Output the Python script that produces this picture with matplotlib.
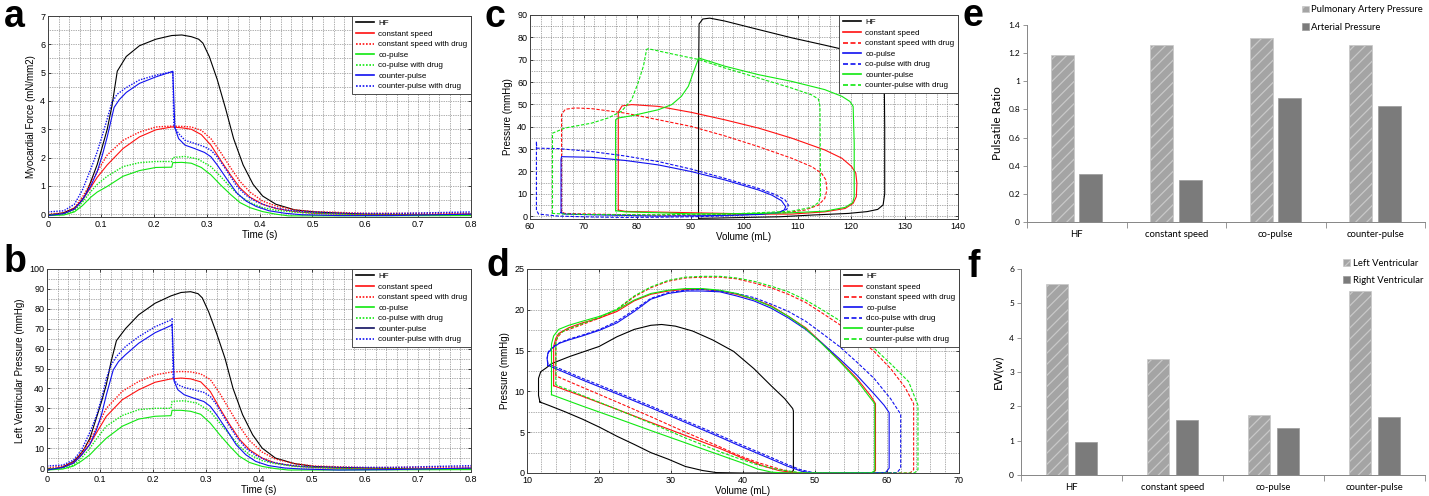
import numpy as np
import matplotlib
matplotlib.use('Agg')
import matplotlib.pyplot as plt
from matplotlib.ticker import MultipleLocator, FormatStrFormatter, FixedLocator
from matplotlib.lines import Line2D

plt.rcParams['font.family'] = ['Liberation Sans', 'DejaVu Sans']
plt.rcParams['hatch.linewidth'] = 0.9

# ---------------- panel a / b : time courses ----------------
t_hf = [0, 0.03, 0.05, 0.06, 0.07, 0.081, 0.093, 0.103, 0.112, 0.121, 0.131, 0.148, 0.173, 0.204,
        0.234, 0.253, 0.271, 0.285, 0.293, 0.305, 0.32, 0.336, 0.351, 0.369, 0.388, 0.406, 0.431,
        0.467, 0.504, 0.55, 0.6, 0.7, 0.8]
force_hf = [-0.03, 0.05, 0.22, 0.4, 0.65, 1.15, 1.75, 2.4, 3.0, 3.83, 5.05, 5.57, 5.95, 6.18,
            6.31, 6.33, 6.27, 6.18, 6.04, 5.57, 4.76, 3.72, 2.67, 1.74, 1.05, 0.64, 0.35,
            0.15, 0.08, 0.04, 0.0, -0.02, 0.0]
lvp_hf = [-1, 0.5, 3.3, 6, 9.5, 15, 25, 33.5, 42, 53.5, 64, 70, 77, 82.8,
          86.5, 88.2, 88.6, 87.6, 85.5, 78.5, 67.7, 55, 40, 26.8, 16.7, 10, 5,
          2.2, 0.8, 0.3, 0, -0.5, -0.3]

t_cs = [0, 0.03, 0.05, 0.065, 0.081, 0.093, 0.112, 0.142, 0.173, 0.204, 0.234, 0.253, 0.271,
        0.29, 0.308, 0.326, 0.345, 0.363, 0.382, 0.406, 0.431, 0.467, 0.504, 0.6, 0.8]
force_cs = [-0.05, 0.02, 0.18, 0.5, 0.95, 1.3, 1.74, 2.32, 2.73, 2.98, 3.08, 3.05, 3.0,
            2.81, 2.44, 1.92, 1.39, 0.93, 0.6, 0.35, 0.2, 0.09, 0.03, -0.02, -0.02]
force_cs_drug = [0.0, 0.05, 0.22, 0.6, 1.1, 1.5, 2.09, 2.61, 2.9, 3.08, 3.11, 3.1, 3.08,
                 2.96, 2.67, 2.2, 1.65, 1.16, 0.78, 0.46, 0.29, 0.15, 0.09, 0.03, 0.03]
lvp_cs = [-1, 0.3, 2.5, 6.5, 12, 17.5, 26, 34.3, 39.3, 43.1, 44.8, 45.2, 44.8,
          43.3, 38.5, 30, 21.7, 14.5, 9.2, 5, 2.5, 1, 0.3, -0.5, -0.5]
lvp_cs_drug = [0, 1, 3, 7.5, 14, 20, 30, 38.5, 43.5, 46.8, 48.2, 48.5, 48.3,
               47.3, 44.5, 37.5, 29, 21, 13.8, 8, 4.5, 2.2, 1.0, 0.2, 0.5]

t_co = [0, 0.03, 0.05, 0.065, 0.081, 0.093, 0.112, 0.142, 0.173, 0.204, 0.234, 0.236, 0.253,
        0.271, 0.29, 0.308, 0.326, 0.345, 0.363, 0.382, 0.406, 0.431, 0.455, 0.5, 0.8]
force_co = [-0.05, -0.03, 0.08, 0.3, 0.6, 0.78, 0.98, 1.34, 1.54, 1.65, 1.66, 1.82, 1.83,
            1.8, 1.65, 1.39, 1.04, 0.7, 0.41, 0.23, 0.09, 0.0, -0.06, -0.06, -0.05]
lvp_co = [-1, -0.5, 1, 3.5, 6.7, 10, 15, 21, 24.6, 26, 26.3, 29, 29.0,
          28.5, 27.0, 22.6, 16.7, 10.9, 5.9, 2.8, 0.8, -0.3, -1, -1, -0.8]

t_co_drug = [0, 0.03, 0.05, 0.065, 0.081, 0.093, 0.112, 0.142, 0.173, 0.204, 0.234, 0.236, 0.259,
             0.283, 0.308, 0.326, 0.345, 0.363, 0.382, 0.406, 0.431, 0.467, 0.504, 0.6, 0.8]
force_co_drug = [-0.02, 0.0, 0.12, 0.42, 0.8, 1.05, 1.34, 1.68, 1.82, 1.86, 1.86, 2.0, 2.04,
                 1.95, 1.68, 1.34, 0.96, 0.64, 0.41, 0.23, 0.14, 0.07, 0.03, -0.03, -0.03]
lvp_co_drug = [-0.5, 0, 1.5, 5, 10, 14.5, 21, 26.4, 29.3, 30, 30, 33.5, 33.8,
               32.6, 28.4, 22.6, 16.7, 10.9, 6.7, 3.7, 2.2, 0.8, 0.3, -0.5, -0.5]

t_cp = [0, 0.03, 0.05, 0.065, 0.081, 0.093, 0.103, 0.112, 0.125, 0.135, 0.148, 0.173, 0.204,
        0.234, 0.236, 0.24, 0.247, 0.259, 0.277, 0.296, 0.308, 0.32, 0.339, 0.357, 0.375,
        0.394, 0.418, 0.449, 0.48, 0.55, 0.65, 0.8]
force_cp = [-0.05, 0.02, 0.18, 0.5, 1.0, 1.5, 2.1, 2.73, 3.77, 4.05, 4.3, 4.62, 4.85,
            5.03, 5.05, 3.05, 2.67, 2.44, 2.32, 2.18, 2.03, 1.74, 1.22, 0.75, 0.46,
            0.27, 0.12, 0.03, -0.02, -0.05, -0.05, 0.0]
lvp_cp = [-1, 0.3, 2.5, 6.5, 12, 19, 27, 36.8, 49.3, 53.5, 56.9, 62.7, 68,
          71.6, 72.4, 43.5, 39.3, 36.8, 35.1, 33.4, 31, 26.8, 19.2, 11.7, 6.7,
          3.3, 1.2, 0, -0.5, -1, -0.8, 0]

t_cp_drug = [0, 0.03, 0.05, 0.065, 0.081, 0.093, 0.103, 0.112, 0.121, 0.131, 0.148, 0.173, 0.204,
             0.234, 0.236, 0.238, 0.247, 0.259, 0.277, 0.296, 0.308, 0.32, 0.339, 0.357, 0.375,
             0.394, 0.418, 0.449, 0.48, 0.55, 0.65, 0.8]
force_cp_drug = [0.08, 0.12, 0.35, 0.85, 1.6, 2.2, 2.8, 3.37, 3.95, 4.24, 4.47, 4.74, 4.91,
                 5.03, 5.05, 3.1, 2.85, 2.61, 2.5, 2.38, 2.26, 2.03, 1.51, 0.99, 0.66,
                 0.44, 0.27, 0.15, 0.09, 0.03, 0.02, 0.08]
lvp_cp_drug = [1, 1.5, 4, 9, 18, 26, 35, 45, 51.8, 56, 61, 66, 71,
               74.4, 75, 45, 41.8, 40.5, 39.3, 38, 36, 31.8, 23.4, 15.9, 10,
               6.4, 3.3, 1.7, 0.8, 0.3, 0.3, 1.2]

labels_ab = ['HF', 'constant speed', 'constant speed with drug', 'co-pulse',
             'co-pulse with drug', 'counter-pulse', 'counter-pulse with drug']

# ---------------- panel c : LV pressure-volume loops ----------------
v_c_hf = [91.5, 91.5, 91.5, 91.6, 92.3, 93.6, 96.4, 102.7, 108.9, 115.1, 118, 122, 125, 126.2,
          126.3, 126.3, 126.0, 125.0, 123, 119.5, 113, 106.7, 100.5, 94.4, 91.5]
p_c_hf = [-1.0, 30, 60, 86, 88.2, 88.6, 87.3, 83.5, 79.8, 76.5, 74.9, 72.5, 70, 66,
          40, 10, 5, 3, 2.0, 1.2, 0.5, -0.3, -0.6, -0.9, -1.0]

v_c_cs = [76.5, 76.5, 77.2, 79.0, 84.0, 90.2, 96.4, 102.7, 108.9, 115.1, 118.3, 120.1, 120.9,
          121.1, 121.0, 120.4, 118.9, 115.1, 108.9, 102.7, 96.4, 90.2, 84.0, 77.8, 76.5]
p_c_cs = [2.7, 46.5, 49.3, 49.9, 49.1, 46.4, 43.1, 39.4, 34.9, 29.6, 25.9, 22.2, 19.2,
          14.7, 8.7, 5.7, 3.4, 1.9, 0.9, 0.9, 1.2, 1.5, 1.8, 2.1, 2.7]

v_c_cs_drug = [65.9, 65.9, 66.6, 68.4, 71.5, 77.8, 84.0, 90.2, 96.4, 102.7, 108.9, 112.6, 114.5,
               115.3, 115.5, 115.1, 113.9, 111.4, 107.7, 102.7, 96.4, 90.2, 84.0, 77.8, 71.5,
               66.5, 65.9]
p_c_cs_drug = [1.9, 45.5, 47.8, 48.4, 48.1, 46.1, 43.1, 40.1, 35.9, 31.1, 25.9, 22.2, 19.2,
               16.2, 11.7, 7.9, 4.9, 2.7, 1.5, 0.9, 0.6, 0.4, 0.4, 0.6, 0.9, 1.2, 1.9]

v_c_co = [65.8, 65.8, 65.9, 71.5, 77.8, 84.0, 90.2, 96.4, 102.7, 105.2, 107.0, 107.8, 107.5,
          106.4, 102.7, 96.4, 90.2, 84.0, 77.8, 71.5, 66.5, 65.8]
p_c_co = [1.5, 25.5, 26.6, 26.3, 24.9, 22.9, 19.9, 16.2, 11.7, 9.4, 6.9, 4.2, 2.7,
          1.5, 0.7, 0.3, 0.1, 0.0, 0.3, 0.6, 0.9, 1.5]

v_c_co_drug = [61.2, 61.2, 61.25, 65.3, 71.5, 77.8, 84.0, 90.2, 96.4, 102.7, 105.8, 107.7, 108.3,
               108.0, 106.4, 102.7, 96.4, 90.2, 84.0, 77.8, 71.5, 65.3, 61.6, 61.2]
p_c_co_drug = [2.7, 33.4, 30.4, 30.2, 28.9, 26.9, 24.4, 21.0, 16.9, 12.4, 9.7, 7.2, 4.9,
               3.0, 1.6, 0.9, 0.1, -0.3, -0.5, -0.6, -0.4, 0.0, 0.9, 2.7]

v_c_cp = [76.0, 76.0, 76.5, 79.0, 84.0, 86.5, 88.3, 89.6, 90.5, 91.2, 91.5, 96.4, 102.7, 108.9,
          115.1, 118.3, 119.8, 120.4, 120.6, 120.6, 120.3, 118.9, 115.1, 108.9, 102.7, 96.4,
          90.2, 84.0, 77.8, 76.0]
p_c_cp = [2.4, 43.1, 43.9, 44.9, 47.6, 49.9, 53.6, 58.1, 64.1, 68.6, 70.8, 67.1, 63.3, 60.3,
          56.6, 53.6, 51.3, 49.1, 32.6, 8.7, 6.0, 3.9, 2.2, 1.5, 1.2, 1.0, 1.0, 1.5, 1.9, 2.4]

v_c_cp_drug = [64.2, 64.2, 66.5, 71.5, 74.6, 77.1, 79.0, 80.2, 81.2, 81.8, 82.1, 87.1, 91.5, 96.4,
               102.7, 108.9, 112.6, 113.9, 114.2, 114.3, 113.9, 112.6, 108.9, 102.7, 96.4, 90.2,
               84.0, 77.8, 71.5, 66.5, 64.2]
p_c_cp_drug = [1.2, 37.1, 39.4, 41.6, 43.9, 46.9, 52.1, 59.6, 67.1, 74.6, 74.9, 72.3, 70.1, 66.3,
               61.8, 57.3, 54.3, 52.4, 49.1, 8.7, 6.0, 3.9, 2.2, 1.5, 0.9, 0.8, 0.6, 0.6, 0.7,
               0.9, 1.2]

labels_c = ['HF', 'constant speed', 'constant speed with drug', 'co-pulse',
            'co-pulse with drug', 'counter-pulse', 'counter-pulse with drug']

# ---------------- panel d : RV pressure-volume loops ----------------
v_d_hf = [11.8, 11.6, 11.6, 11.9, 12.7, 13.4, 16.0, 18.0, 20.0, 22.5, 24.9, 27.2, 28.7, 30.6,
          33.0, 35.8, 38.7, 41.5, 43.9, 45.8, 46.9, 47.0, 47.0, 46.5, 40.0, 36.3, 34.4, 32.0,
          29.6, 27.2, 24.9, 22.5, 20.1, 17.7, 15.3, 13.0, 11.8]
p_d_hf = [8.7, 9.5, 11.6, 12.4, 12.9, 13.4, 14.3, 14.9, 15.5, 16.7, 17.6, 18.1, 18.2, 18.0,
          17.4, 16.3, 14.9, 12.8, 10.7, 9.1, 7.9, 7.6, 0.3, 0.0, 0.0, 0.05, 0.3, 0.8,
          1.7, 2.5, 3.5, 4.5, 5.6, 6.6, 7.5, 8.3, 8.7]

v_d_cs = [13.7, 13.7, 14.0, 14.4, 15.8, 17.7, 20.1, 22.5, 24.9, 27.2, 29.6, 32.0, 34.4, 36.8,
          39.1, 41.5, 43.9, 46.3, 48.7, 51.0, 53.4, 55.8, 57.7, 58.4, 58.4, 58.0, 49.0, 47.0,
          45.0, 43.0, 40.0, 36.8, 32.0, 27.2, 22.5, 17.7, 13.7]
p_d_cs = [10.7, 15.5, 16.5, 17.1, 17.8, 18.4, 19.0, 19.8, 21.1, 21.9, 22.3, 22.5, 22.5, 22.3,
          21.9, 21.3, 20.5, 19.2, 17.8, 15.9, 13.8, 11.6, 9.5, 8.5, 0.3, 0.0, 0.0, 0.05,
          0.3, 0.8, 1.8, 3.0, 4.6, 6.2, 7.8, 9.4, 10.7]

v_d_cs_drug = [14.0, 14.0, 14.4, 14.9, 17.7, 20.1, 22.5, 24.9, 27.2, 29.6, 32.0, 34.4, 36.8,
               39.1, 41.5, 43.9, 46.3, 48.7, 51.0, 53.4, 55.8, 58.2, 60.5, 62.5, 63.7, 63.7,
               63.2, 48.0, 47.0, 45.0, 42.0, 39.0, 36.8, 32.0, 27.2, 22.5, 17.7, 14.0]
p_d_cs_drug = [11.9, 16.1, 16.8, 17.3, 18.2, 19.0, 20.0, 21.6, 22.7, 23.5, 23.9, 24.0, 24.0,
               23.8, 23.3, 22.7, 21.9, 20.9, 19.6, 18.2, 16.7, 14.9, 12.8, 10.5, 8.5, 0.4,
               0.0, 0.0, 0.1, 0.5, 1.3, 2.3, 3.2, 5.0, 6.9, 8.7, 10.5, 11.9]

v_d_co = [12.9, 12.8, 12.9, 13.5, 14.5, 15.8, 17.7, 20.1, 22.5, 24.9, 27.2, 29.6, 32.0, 34.4,
          36.8, 39.1, 41.5, 43.9, 46.3, 48.7, 51.0, 53.4, 55.8, 58.2, 59.6, 60.3, 60.3, 59.8,
          49.5, 48.0, 46.0, 43.9, 41.5, 39.1, 36.8, 32.0, 27.2, 22.5, 17.7, 12.9]
p_d_co = [13.2, 14.0, 14.7, 15.3, 15.9, 16.3, 16.8, 17.5, 18.4, 19.8, 21.3, 22.0, 22.3, 22.3,
          22.2, 21.7, 21.1, 20.2, 19.0, 17.6, 15.9, 14.0, 12.0, 9.7, 8.3, 7.4, 0.6, 0.05,
          0.0, 0.25, 0.9, 1.7, 2.6, 3.5, 4.4, 6.2, 8.0, 9.7, 11.4, 13.2]

v_d_co_drug = [12.9, 12.8, 13.0, 13.6, 14.6, 15.8, 17.7, 20.1, 22.5, 24.9, 27.2, 29.6, 32.0,
               34.4, 36.8, 39.1, 41.5, 43.9, 46.3, 48.7, 51.0, 53.4, 55.8, 58.2, 60.5, 61.9,
               61.9, 61.4, 50.0, 48.0, 46.0, 43.9, 41.5, 39.1, 36.8, 32.0, 27.2, 22.5, 17.7, 12.9]
p_d_co_drug = [13.4, 14.1, 14.9, 15.5, 16.0, 16.4, 16.9, 17.6, 18.6, 20.0, 21.4, 22.1, 22.4,
               22.5, 22.3, 22.0, 21.5, 20.7, 19.8, 18.6, 17.1, 15.5, 13.6, 11.6, 9.1, 7.2,
               0.6, 0.05, 0.0, 0.4, 1.1, 1.9, 2.8, 3.7, 4.6, 6.4, 8.2, 9.9, 11.6, 13.4]

v_d_cp = [13.4, 13.4, 13.7, 14.4, 15.8, 17.7, 20.1, 22.5, 24.9, 27.2, 29.6, 32.0, 34.4, 36.8,
          39.1, 41.5, 43.9, 46.3, 48.7, 51.0, 53.4, 55.8, 57.5, 58.3, 58.3, 57.8, 46.0, 44.0,
          42.0, 40.0, 36.8, 32.0, 27.2, 22.5, 17.7, 13.4]
p_d_cp = [9.6, 15.8, 16.8, 17.6, 18.1, 18.6, 19.2, 20.0, 21.2, 22.0, 22.4, 22.6, 22.6, 22.4,
          22.0, 21.3, 20.4, 19.2, 17.7, 15.8, 13.7, 11.4, 9.4, 8.5, 0.3, 0.0, 0.0, 0.1,
          0.5, 1.2, 2.2, 3.7, 5.2, 6.7, 8.2, 9.6]

v_d_cp_drug = [14.0, 14.0, 14.4, 15.3, 17.7, 20.1, 22.5, 24.9, 27.2, 29.6, 32.0, 34.4, 36.8,
               39.1, 41.5, 43.9, 46.3, 48.7, 51.0, 53.4, 55.8, 58.2, 60.5, 63.0, 64.3, 64.3,
               63.8, 48.5, 47.5, 45.0, 42.0, 39.0, 36.8, 32.0, 27.2, 22.5, 17.7, 14.0]
p_d_cp_drug = [10.8, 16.2, 17.0, 17.5, 18.3, 19.1, 20.1, 21.7, 22.8, 23.6, 24.0, 24.1, 24.1,
               23.9, 23.5, 22.9, 22.2, 21.2, 20.0, 18.7, 17.1, 15.3, 13.4, 11.2, 8.3, 0.4,
               0.0, 0.0, 0.1, 0.4, 1.0, 1.9, 2.6, 4.3, 6.1, 7.8, 9.5, 10.8]

labels_d = ['HF', 'constant speed', 'constant speed with drug', 'co-pulse',
            'dco-pulse with drug', 'counter-pulse', 'counter-pulse with drug']

# ---------------- panel e / f : bars ----------------
bar_groups = ['HF', 'constant speed', 'co-pulse', 'counter-pulse']
pulm_artery_ratio = [1.19, 1.255, 1.305, 1.26]
arterial_ratio = [0.34, 0.295, 0.88, 0.825]
ew_left = [5.55, 3.37, 1.76, 5.37]
ew_right = [0.97, 1.60, 1.38, 1.70]

# ---------------- drawing ----------------
RED = '#ff1010'
GREEN = '#10e810'
BLUE = '#1010f0'
W = 1429.0
H = 496.0


def px_axes(left, top, right, bottom):
    return fig.add_axes([left / W, 1 - bottom / H, (right - left) / W, (bottom - top) / H])


def matlab_style(ax, xlim, ylim, xmaj, xmin, ymaj, ymin):
    ax.set_xlim(*xlim)
    ax.set_ylim(*ylim)
    ax.xaxis.set_major_locator(MultipleLocator(xmaj))
    ax.xaxis.set_minor_locator(MultipleLocator(xmin))
    ax.yaxis.set_major_locator(MultipleLocator(ymaj))
    ax.yaxis.set_minor_locator(MultipleLocator(ymin))
    ax.xaxis.set_major_formatter(FormatStrFormatter('%g'))
    ax.yaxis.set_major_formatter(FormatStrFormatter('%g'))
    ax.grid(which='both', linestyle=(0, (1, 1.5)), linewidth=0.5, color='#606060')
    ax.tick_params(which='major', direction='in', top=True, right=True, length=2.5,
                   width=0.5, labelsize=6.5, pad=2)
    ax.tick_params(which='minor', length=0)
    for s in ax.spines.values():
        s.set_linewidth(0.7)
        s.set_color('#404040')
    ax.set_axisbelow(True)


def matlab_legend(ax, labels, colors, styles):
    handles = [Line2D([], [], color=c, ls=s, lw=1.2) for c, s in zip(colors, styles)]
    leg = ax.legend(handles, labels, loc='upper right', fontsize=5.8, frameon=True,
                    fancybox=False, framealpha=1, edgecolor='#303030', borderaxespad=0,
                    handlelength=2.3, labelspacing=0.36, borderpad=0.45, handletextpad=0.5)
    leg.get_frame().set_linewidth(0.6)
    return leg


fig = plt.figure(figsize=(W / 100, H / 100), dpi=100)

dot = (0, (1, 1))
dash = (0, (3, 1.5))
colors_ab = ['k', RED, RED, GREEN, GREEN, BLUE, BLUE]
colors_cd = ['k', RED, RED, BLUE, BLUE, GREEN, GREEN]

# panel a
ax_a = px_axes(48, 16, 471, 217)
ax_a.plot(t_hf, force_hf, color='k', lw=0.8)
ax_a.plot(t_cs, force_cs, color=RED, lw=0.8)
ax_a.plot(t_cs, force_cs_drug, color=RED, lw=1.0, ls=dot)
ax_a.plot(t_co, force_co, color=GREEN, lw=0.8)
ax_a.plot(t_co_drug, force_co_drug, color=GREEN, lw=1.0, ls=dot)
ax_a.plot(t_cp, force_cp, color=BLUE, lw=0.8)
ax_a.plot(t_cp_drug, force_cp_drug, color=BLUE, lw=1.0, ls=dot)
matlab_style(ax_a, (0, 0.8), (-0.1, 7), 0.1, 0.02, 1, 0.5)
ax_a.set_xlabel('Time (s)', fontsize=7, labelpad=1)
ax_a.set_ylabel('Myocardial Force (mN/mm2)', fontsize=7, labelpad=3)
matlab_legend(ax_a, labels_ab, colors_ab, ['-', '-', dot, '-', dot, '-', dot])

# panel b
ax_b = px_axes(47, 269, 471, 472)
ax_b.plot(t_hf, lvp_hf, color='k', lw=0.8)
ax_b.plot(t_cs, lvp_cs, color=RED, lw=0.8)
ax_b.plot(t_cs, lvp_cs_drug, color=RED, lw=1.0, ls=dot)
ax_b.plot(t_co, lvp_co, color=GREEN, lw=0.8)
ax_b.plot(t_co_drug, lvp_co_drug, color=GREEN, lw=1.0, ls=dot)
ax_b.plot(t_cp, lvp_cp, color=BLUE, lw=0.8)
ax_b.plot(t_cp_drug, lvp_cp_drug, color=BLUE, lw=1.0, ls=dot)
matlab_style(ax_b, (0, 0.8), (-2, 100), 0.1, 0.02, 10, 5)
ax_b.set_xlabel('Time (s)', fontsize=7, labelpad=1)
ax_b.set_ylabel('Left Ventricular Pressure (mmHg)', fontsize=7, labelpad=3)
matlab_legend(ax_b, labels_ab, ['k', RED, RED, GREEN, GREEN, '#101060', BLUE],
              ['-', '-', dot, '-', dot, '-', dot])

# panel c
ax_c = px_axes(530, 15, 958, 219)
ax_c.plot(v_c_hf, p_c_hf, color='k', lw=0.8)
ax_c.plot(v_c_cs, p_c_cs, color=RED, lw=0.8)
ax_c.plot(v_c_cs_drug, p_c_cs_drug, color=RED, lw=0.8, ls=dash)
ax_c.plot(v_c_co, p_c_co, color=BLUE, lw=0.8)
ax_c.plot(v_c_co_drug, p_c_co_drug, color=BLUE, lw=0.8, ls=dash)
ax_c.plot(v_c_cp, p_c_cp, color=GREEN, lw=0.8)
ax_c.plot(v_c_cp_drug, p_c_cp_drug, color=GREEN, lw=0.8, ls=dash)
matlab_style(ax_c, (60, 140), (-1.3, 90), 10, 2, 10, 5)
ax_c.set_xlabel('Volume (mL)', fontsize=7, labelpad=1)
ax_c.set_ylabel('Pressure (mmHg)', fontsize=7, labelpad=3)
matlab_legend(ax_c, labels_c, colors_cd, ['-', '-', dash, '-', dash, '-', dash])

# panel d
ax_d = px_axes(527, 269, 959, 473)
ax_d.plot(v_d_hf, p_d_hf, color='k', lw=0.8)
ax_d.plot(v_d_cs, p_d_cs, color=RED, lw=0.8)
ax_d.plot(v_d_cs_drug, p_d_cs_drug, color=RED, lw=0.8, ls=dash)
ax_d.plot(v_d_co, p_d_co, color=BLUE, lw=0.8)
ax_d.plot(v_d_co_drug, p_d_co_drug, color=BLUE, lw=0.8, ls=dash)
ax_d.plot(v_d_cp, p_d_cp, color=GREEN, lw=0.8)
ax_d.plot(v_d_cp_drug, p_d_cp_drug, color=GREEN, lw=0.8, ls=dash)
matlab_style(ax_d, (10, 70), (0, 25), 10, 2, 5, 2.5)
ax_d.set_xlabel('Volume (mL)', fontsize=7, labelpad=1)
ax_d.set_ylabel('Pressure (mmHg)', fontsize=7, labelpad=3)
matlab_legend(ax_d, labels_d, colors_cd, ['-', '-', dash, '-', dash, '-', dash])

# panels e / f (Excel look)
XL_FONT = ['Lato', 'DejaVu Sans']
AXC = '#868686'


def excel_bars(ax, first, second, width, ylim, ystep, ylabel, names):
    x = np.arange(len(bar_groups))
    ax.bar(x - 0.145, first, width, color='#a4a4a4', edgecolor='#c8c8c8', hatch='///',
           linewidth=0.5, label=names[0])
    ax.bar(x + 0.14, second, width, color='#7b7b7b', edgecolor='#9a9a9a', linewidth=0.5,
           label=names[1])
    ax.set_xlim(-0.5, len(bar_groups) - 0.5)
    ax.set_ylim(*ylim)
    ax.yaxis.set_major_locator(MultipleLocator(ystep))
    ax.yaxis.set_major_formatter(FormatStrFormatter('%g'))
    ax.set_xticks(x)
    ax.set_xticklabels(bar_groups, fontsize=6.8, family=XL_FONT)
    ax.xaxis.set_minor_locator(FixedLocator(np.arange(-0.5, len(bar_groups), 1.0)))
    ax.tick_params(axis='x', which='major', length=0, pad=6)
    ax.tick_params(axis='x', which='minor', length=4, width=0.6, color=AXC, direction='out')
    ax.tick_params(axis='y', length=3, width=0.6, color=AXC, direction='out', labelsize=6, pad=2)
    for lab in ax.get_yticklabels():
        lab.set_family(XL_FONT)
    for side in ('top', 'right'):
        ax.spines[side].set_visible(False)
    for side in ('left', 'bottom'):
        ax.spines[side].set_color(AXC)
        ax.spines[side].set_linewidth(0.7)
    ax.set_ylabel(ylabel, fontsize=8.5, family=XL_FONT, labelpad=4)


ax_e = px_axes(1027, 25, 1425, 222)
excel_bars(ax_e, pulm_artery_ratio, arterial_ratio, 0.23, (0, 1.4), 0.2, 'Pulsatile Ratio',
           ['Pulmonary Artery Pressure', 'Arterial Pressure'])
ax_e.legend(loc='upper right', bbox_to_anchor=(1.0, 1.11), frameon=False,
            prop={'family': XL_FONT, 'size': 6.8}, handlelength=0.7, handleheight=0.7,
            handletextpad=0.3, labelspacing=0.9, borderaxespad=0, borderpad=0.2)

ax_f = px_axes(1021, 269, 1425, 475)
excel_bars(ax_f, ew_left, ew_right, 0.22, (0, 6), 1, 'EW(w)',
           ['Left Ventricular', 'Right Ventricular'])
ax_f.legend(loc='upper right', bbox_to_anchor=(1.0, 1.06), frameon=False,
            prop={'family': XL_FONT, 'size': 6.8}, handlelength=0.7, handleheight=0.7,
            handletextpad=0.3, labelspacing=0.9, borderaxespad=0, borderpad=0.2)

# panel letters
for letter, xp, yp in [('a', 4, 27), ('b', 4, 272), ('c', 485, 27), ('d', 487, 276),
                       ('e', 963, 26), ('f', 967, 277)]:
    fig.text(xp / W, 1 - yp / H, letter, fontsize=27, fontweight='bold', va='baseline',
             ha='left', family=['Liberation Sans', 'DejaVu Sans'])

fig.savefig('out.png', dpi=100)
